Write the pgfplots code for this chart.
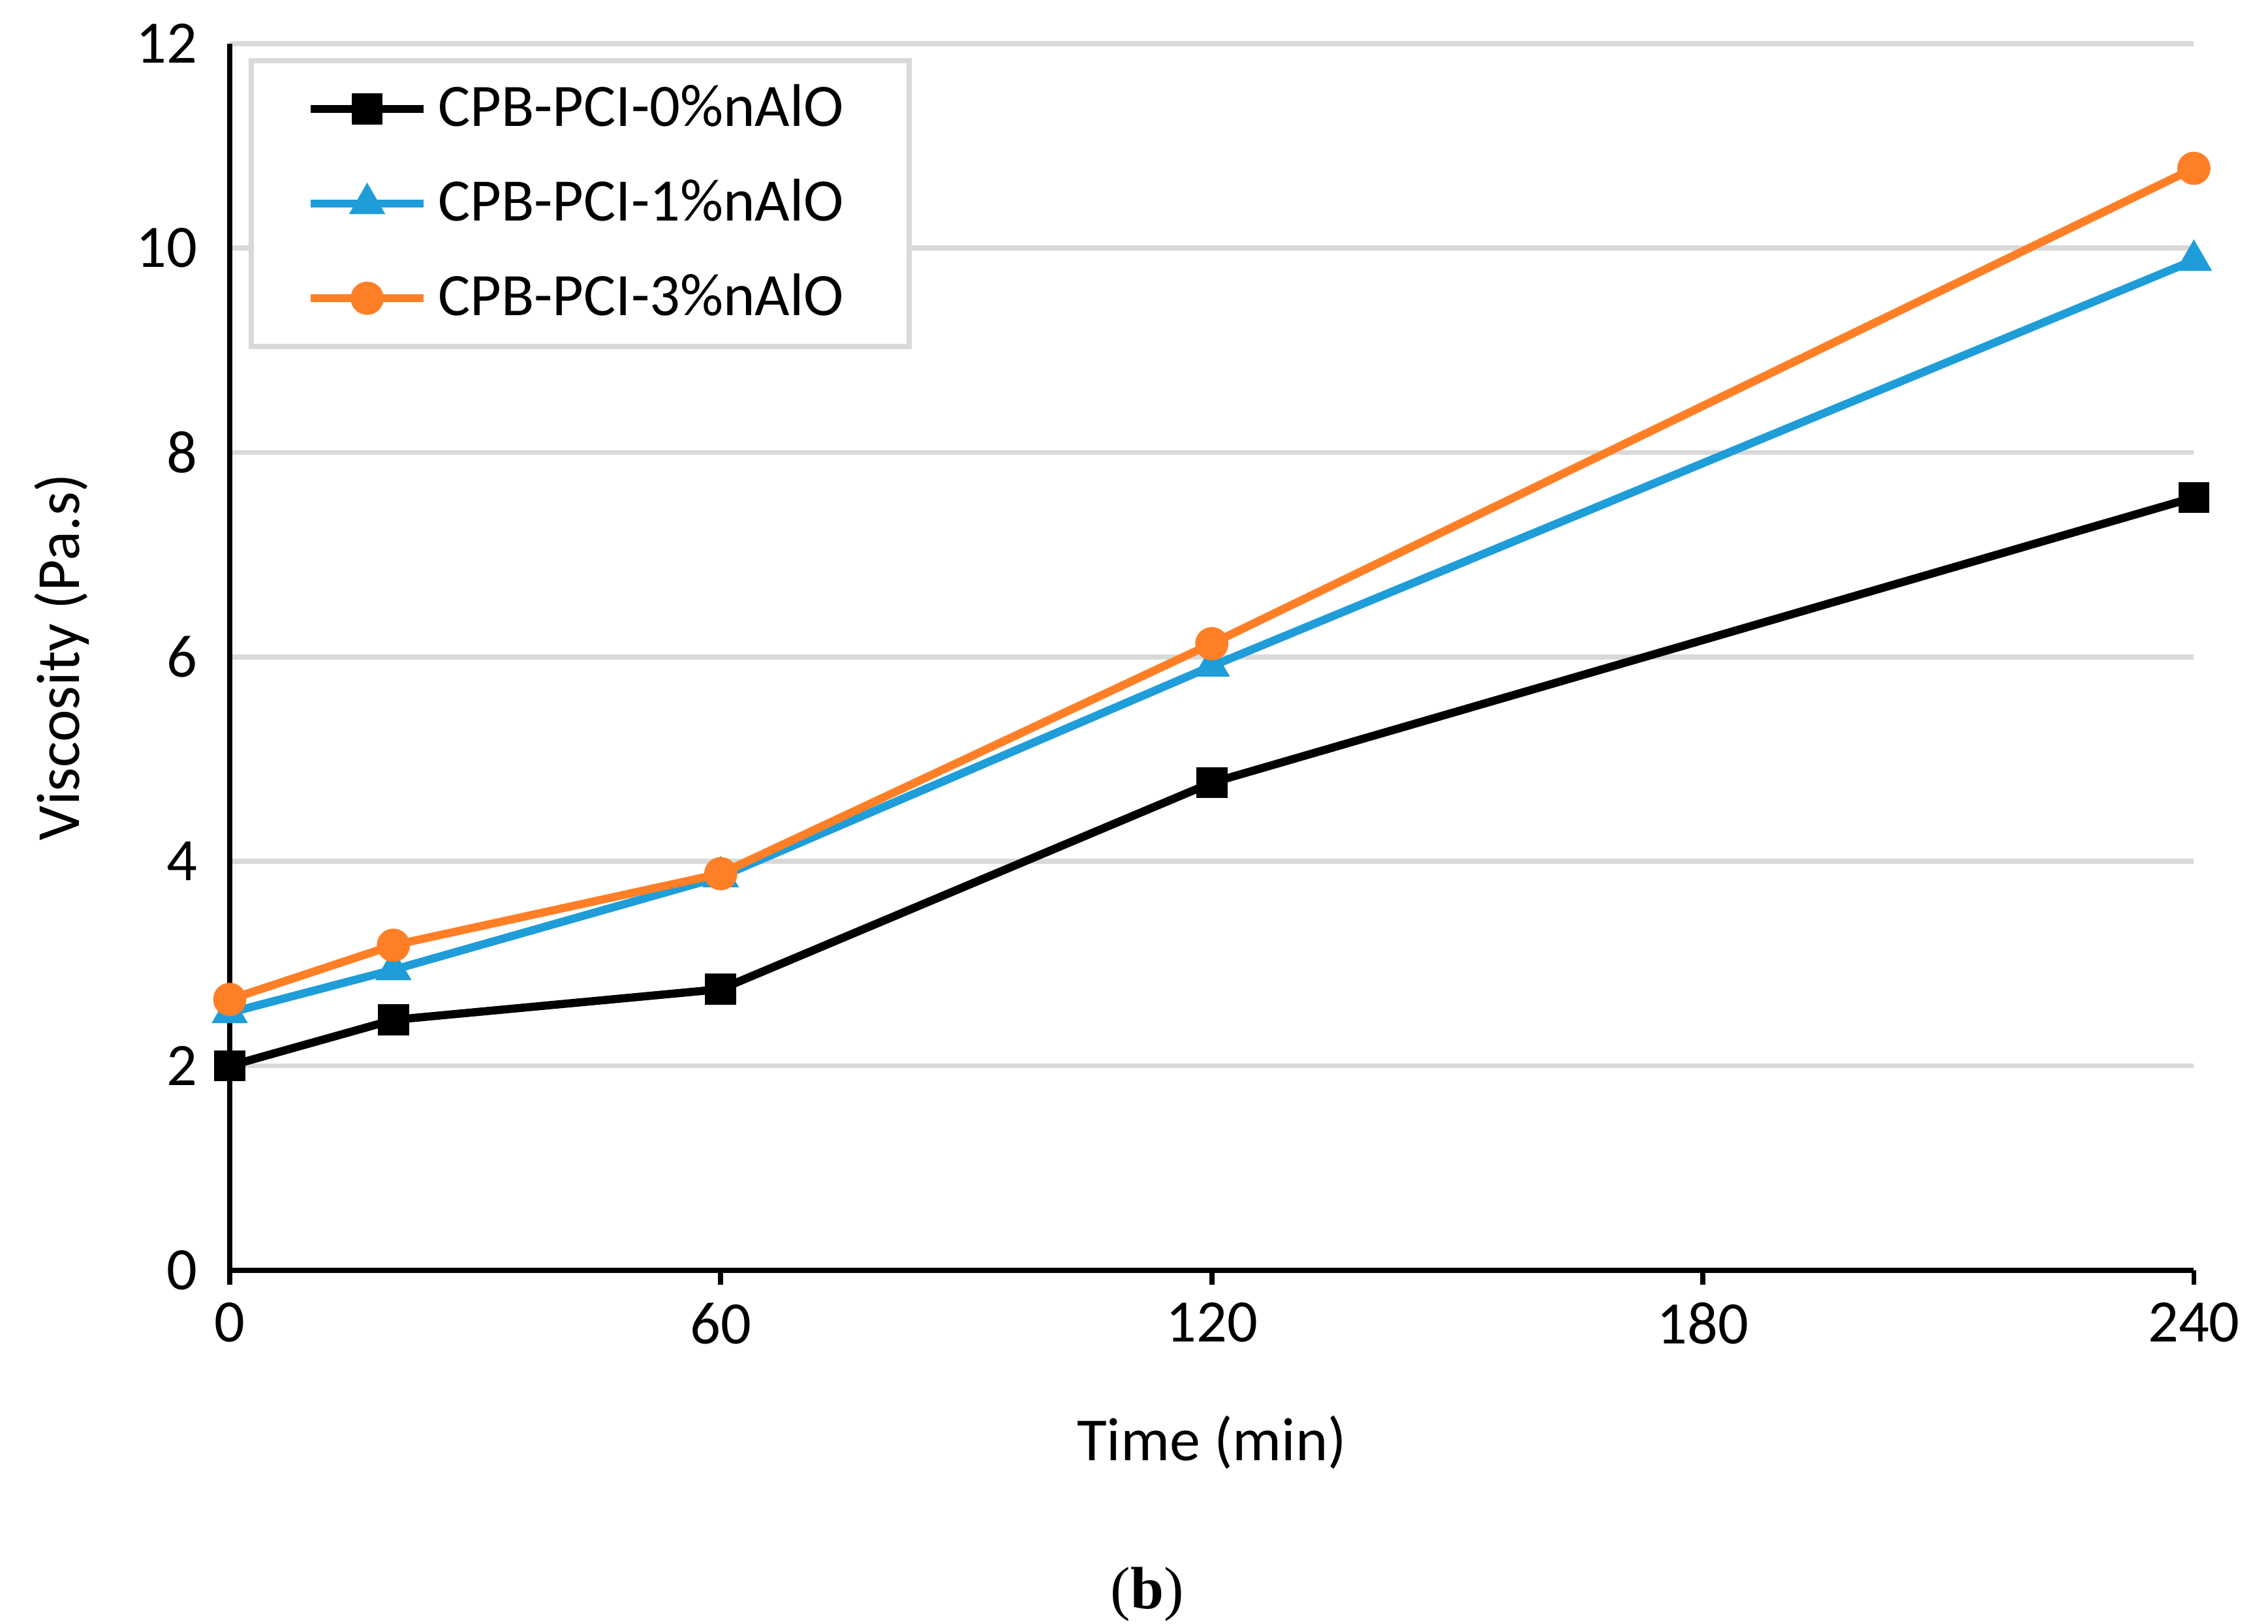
\documentclass[border=0pt]{standalone}
\usepackage{fontspec}
\setmainfont{Carlito}
\newfontfamily\capfont{Liberation Serif}
\usepackage{pgfplots}
\pgfplotsset{compat=1.18}
\definecolor{cblue}{RGB}{31,157,217}
\definecolor{corange}{RGB}{255,127,39}
\definecolor{cgrid}{RGB}{217,217,217}
\begin{document}
\begin{tikzpicture}
\useasboundingbox (0,0) rectangle (15.6cm,11.17cm);
\begin{axis}[
  at={(1.58cm,2.43cm)}, anchor=south west,
  scale only axis, width=13.51cm, height=8.44cm,
  xmin=0, xmax=240, ymin=0, ymax=12,
  xtick={0,60,120,180,240}, ytick={0,2,4,6,8,10,12},
  axis lines*=left,
  axis line style={black, line width=1pt},
  ymajorgrids=true,
  major grid style={cgrid, line width=1pt},
  tick align=outside,
  xtick style={black, line width=1pt},
  ytick style={draw=none},
  major tick length=0.1cm,
  /pgf/number format/assume math mode=true,
  tick label style={font=\fontsize{11.8}{14}\selectfont},
  label style={font=\fontsize{12}{14}\selectfont},
  xlabel={Time (min)},
  ylabel={Viscosity (Pa.s)},
  xlabel style={at={(axis description cs:0.5,-0.1403)}, anchor=center},
  ylabel style={at={(axis description cs:-0.0854,0.5)}, anchor=center},
  clip=false,
  legend cell align=left,
  legend style={at={(0.0096,0.988)}, anchor=north west,
    draw=cgrid, line width=1pt, fill=white,
    font=\fontsize{11.8}{14}\selectfont,
    inner xsep=0.38cm, inner ysep=0.09cm,
    row sep=0.17cm},
  legend image code/.code={\draw[mark repeat=2,mark phase=2] plot coordinates {(0cm,0cm) (0.39cm,0cm) (0.78cm,0cm)};},
]
\addplot[black, line width=1.6pt, mark=square*, mark size=2.8pt, mark options={fill=black, line width=0.5pt}]
  coordinates {(0,2.0) (20,2.45) (60,2.75) (120,4.77) (240,7.56)};
\addlegendentry{CPB-PCI-0\%nAlO}
\addplot[cblue, line width=1.6pt, mark=triangle*, mark size=3.6pt, mark options={fill=cblue, line width=0.5pt}]
  coordinates {(0,2.52) (20,2.94) (60,3.85) (120,5.91) (240,9.88)};
\addlegendentry{CPB-PCI-1\%nAlO}
\addplot[corange, line width=1.6pt, mark=*, mark size=3pt, mark options={fill=corange, line width=0.5pt}]
  coordinates {(0,2.65) (20,3.18) (60,3.88) (120,6.13) (240,10.78)};
\addlegendentry{CPB-PCI-3\%nAlO}
\end{axis}
\node at (7.89cm,0.20cm) {\capfont\fontsize{11.7}{14}\selectfont(\textbf{b})};
\end{tikzpicture}
\end{document}
